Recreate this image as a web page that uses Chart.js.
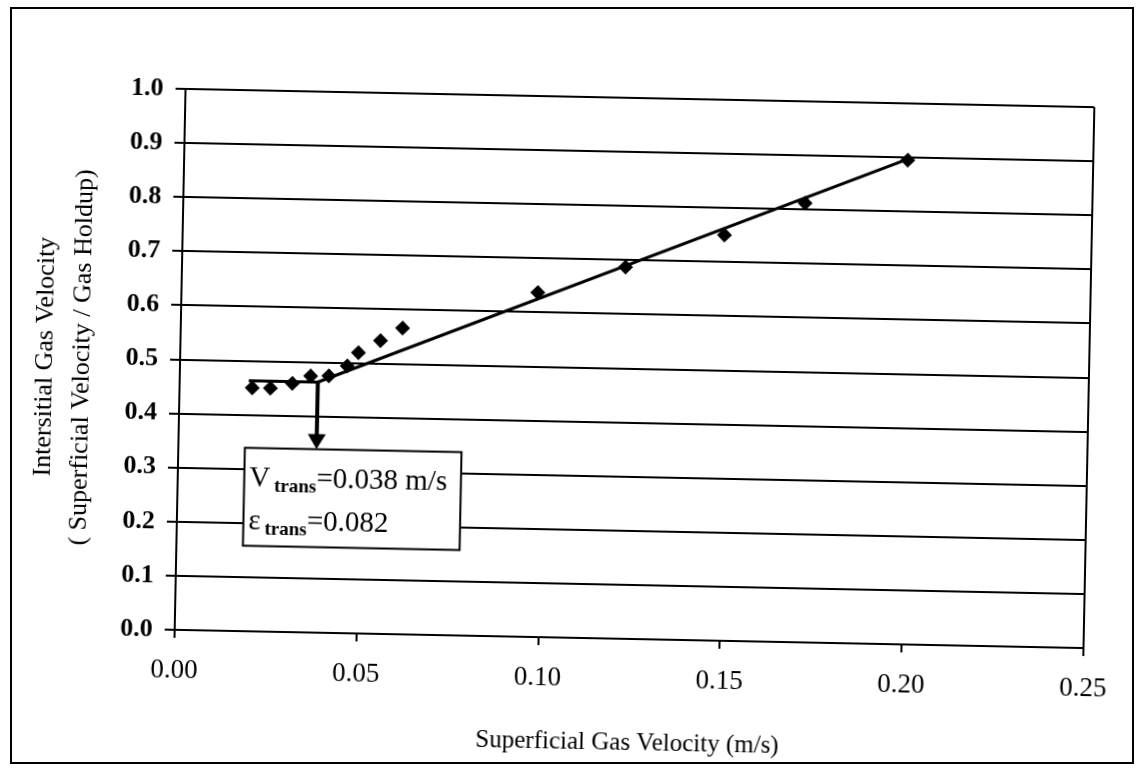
<!DOCTYPE html>
<html>
<head>
<meta charset="utf-8">
<title>Interstitial gas velocity</title>
<script src="https://cdn.jsdelivr.net/npm/chart.js@4.4.0/dist/chart.umd.min.js"></script>
<style>
  html, body { margin: 0; padding: 0; background: #fff; overflow: hidden; }
  #sheet {
    position: absolute; left: 0; top: 0; width: 1140px; height: 771px;
    transform: rotate(1.15deg); transform-origin: 635px 369px;
  }
  #frame {
    position: absolute; left: 10px; top: 7px; width: 1124px; height: 757px;
    border: 2px solid #000; box-sizing: border-box; pointer-events: none;
  }
  canvas { position: absolute; left: 0; top: 0; }
</style>
</head>
<body>
<div id="sheet">
  <canvas id="holdupChart" width="1140" height="771"></canvas>
</div>
<div id="frame"></div>
<script>
// mesures : vitesse superficielle (m/s) / vitesse interstitielle (m/s)
const gasVelocity = [0.020, 0.025, 0.031, 0.036, 0.041, 0.046, 0.049, 0.055, 0.061, 0.098, 0.122, 0.149, 0.171, 0.199];
const interstitialVelocity = [0.450, 0.450, 0.460, 0.474, 0.475, 0.494, 0.519, 0.542, 0.566, 0.637, 0.687, 0.750, 0.812, 0.895];

// point de transition
const vTrans = 0.038;
const epsTrans = 0.082;
const transLevel = 0.463;

// droites de régression (régime homogène / hétérogène)
const homogeneousX = [0.019, vTrans];
const homogeneousY = [transLevel, transLevel];
const heterogeneousX = [vTrans, 0.199];
const heterogeneousY = [transLevel, 0.897];

const xTickLabels = ["0.00", "0.05", "0.10", "0.15", "0.20", "0.25"];
const yTickLabels = ["0.0", "0.1", "0.2", "0.3", "0.4", "0.5", "0.6", "0.7", "0.8", "0.9", "1.0"];

// encadré d'annotation (unités des axes)
const noteBox = { xMin: 0.0183, xMax: 0.0779, yMin: 0.158, yMax: 0.339 };

const SERIF = "'Liberation Serif', 'Times New Roman', serif";

const pairs = (xs, ys) => xs.map((x, i) => ({ x, y: ys[i] }));

// bord droit de la zone de tracé
const plotBorder = {
    id: "plotBorder",
    afterDraw(chart) {
        const { ctx, chartArea } = chart;
        ctx.save();
        ctx.strokeStyle = "#000";
        ctx.lineWidth = 2;
        ctx.beginPath();
        ctx.moveTo(chartArea.right, chartArea.top);
        ctx.lineTo(chartArea.right, chartArea.bottom);
        ctx.stroke();
        ctx.restore();
    },
};

// flèche + encadré V trans / ε trans
const transNote = {
    id: "transNote",
    afterDatasetsDraw(chart) {
        const { ctx, scales: { x, y } } = chart;
        const left = x.getPixelForValue(noteBox.xMin);
        const right = x.getPixelForValue(noteBox.xMax);
        const top = y.getPixelForValue(noteBox.yMax);
        const bottom = y.getPixelForValue(noteBox.yMin);
        ctx.save();

        // pointe de flèche
        const tipX = x.getPixelForValue(vTrans);
        ctx.fillStyle = "#000";
        ctx.beginPath();
        ctx.moveTo(tipX, top);
        ctx.lineTo(tipX - 9, top - 15);
        ctx.lineTo(tipX + 9, top - 15);
        ctx.closePath();
        ctx.fill();

        // encadré
        ctx.fillStyle = "#fff";
        ctx.fillRect(left, top, right - left, bottom - top);
        ctx.strokeStyle = "#000";
        ctx.lineWidth = 2;
        ctx.strokeRect(left, top, right - left, bottom - top);

        ctx.fillStyle = "#000";
        ctx.textBaseline = "alphabetic";
        const line = (sym, value, baseY) => {
            let cx = left + 5;
            ctx.font = `29px ${SERIF}`;
            ctx.fillText(sym, cx, baseY);
            cx += ctx.measureText(sym).width + 4;
            ctx.font = `bold 19px ${SERIF}`;
            ctx.fillText("trans", cx, baseY + 5);
            cx += ctx.measureText("trans").width;
            ctx.font = `29px ${SERIF}`;
            ctx.fillText(value, cx, baseY);
        };
        line("V", "=" + vTrans.toFixed(3) + " m/s", top + 38);
        line("ε", "=" + epsTrans.toFixed(3), top + 81);
        ctx.restore();
    },
};

const ctx = document.getElementById("holdupChart").getContext("2d");

new Chart(ctx, {
    type: "scatter",
    data: {
        datasets: [
            {
                label: "Mesures",
                data: pairs(gasVelocity, interstitialVelocity),
                pointStyle: "rectRot",
                pointRadius: 7.5,
                backgroundColor: "#000",
                borderColor: "#000",
                borderWidth: 0,
                order: 1,
            },
            {
                label: "Régime homogène",
                type: "line",
                data: pairs(homogeneousX, homogeneousY),
                borderColor: "#000",
                borderWidth: 3,
                pointRadius: 0,
                order: 2,
            },
            {
                label: "Régime hétérogène",
                type: "line",
                data: pairs(heterogeneousX, heterogeneousY),
                borderColor: "#000",
                borderWidth: 3,
                pointRadius: 0,
                order: 2,
            },
            {
                label: "Transition",
                type: "line",
                data: pairs([vTrans, vTrans], [transLevel, noteBox.yMax + 0.02]),
                borderColor: "#000",
                borderWidth: 4,
                pointRadius: 0,
                order: 2,
            },
        ],
    },
    options: {
        responsive: false,
        animation: false,
        events: [],
        layout: { padding: { left: 24, right: 51, top: 98, bottom: 13 } },
        plugins: {
            legend: { display: false },
            tooltip: { enabled: false },
        },
        scales: {
            x: {
                type: "linear",
                min: 0,
                max: 0.25,
                afterFit: (scale) => { scale.height = 119; },
                afterBuildTicks: (scale) => {
                    scale.ticks = xTickLabels.map((t) => ({ value: parseFloat(t) }));
                },
                ticks: {
                    callback: (v, i) => xTickLabels[i],
                    color: "#000",
                    font: { family: SERIF, size: 27 },
                    padding: 17,
                    maxRotation: 0,
                },
                grid: {
                    drawOnChartArea: false,
                    drawTicks: true,
                    tickLength: 8,
                    color: "#000",
                    lineWidth: 2,
                },
                border: { color: "#000", width: 2 },
                title: {
                    display: true,
                    text: "Superficial Gas Velocity (m/s)",
                    color: "#000",
                    font: { family: SERIF, size: 25 },
                    padding: { top: 0, bottom: 0 },
                },
            },
            y: {
                type: "linear",
                min: 0,
                max: 1,
                afterFit: (scale) => { scale.width = 156; },
                afterBuildTicks: (scale) => {
                    scale.ticks = yTickLabels.map((t) => ({ value: parseFloat(t) }));
                },
                ticks: {
                    callback: (v, i) => yTickLabels[i],
                    color: "#000",
                    font: { family: SERIF, size: 26, weight: "bold" },
                    padding: 12,
                },
                grid: {
                    drawOnChartArea: true,
                    tickLength: 10,
                    color: "#000",
                    lineWidth: 2,
                },
                border: { color: "#000", width: 2 },
                title: {
                    display: true,
                    text: ["Intersitial Gas Velocity", "( Superficial Velocity / Gas Holdup)"],
                    color: "#000",
                    font: { family: SERIF, size: 26, lineHeight: 1.42 },
                    padding: { top: 3, bottom: 0 },
                },
            },
        },
    },
    plugins: [plotBorder, transNote],
});
</script>
</body>
</html>
